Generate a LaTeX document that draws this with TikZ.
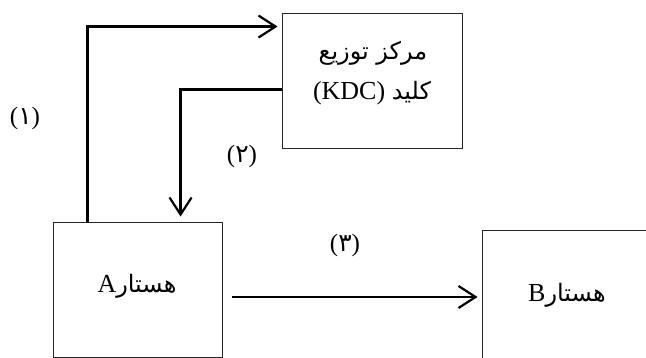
\documentclass[tikz,border=0pt]{standalone}
\usepackage{fontspec}
\setmainfont{Liberation Serif}
\newfontfamily\fa[Script=Arabic]{DejaVu Sans}
\TeXXeTstate=1
\usetikzlibrary{arrows.meta}

\begin{document}
\begin{tikzpicture}[x=1pt,y=-1pt,
  box/.style={draw=black!85, line width=0.9pt, rectangle, inner sep=0pt},
  arr/.style={line width=2.2pt, -{Straight Barb[length=17pt,width=22pt,line width=2.2pt]}},
  lbl/.style={font=\fontsize{25}{28}\selectfont, inner sep=0pt},
  txt/.style={font=\fontsize{26}{30}\selectfont, inner sep=0pt},
  fatxt/.style={font=\fontsize{24}{28}\selectfont\fa}]
  \clip (0,0) rectangle (646,358);

  % boxes
  \node[box, minimum width=180pt, minimum height=135pt] (kdc) at (372,80.5) {};
  \node[box, minimum width=169pt, minimum height=135pt] (A) at (137.5,289.5) {};
  \node[box, minimum width=200pt, minimum height=200pt] (B) at (582,330) {};

  % box texts
  \node[txt] (kdc1) at (373,53) {{\fontsize{24}{28}\selectfont\fa\beginR مرکز توزیع\endR}};
  \node[txt] (kdc2) at (372,93) {(KDC) {\fontsize{24}{28}\selectfont\fa\beginR کلید\endR}};
  \node[txt] (Atxt) at (137,286) {A{\fontsize{24}{28}\selectfont\fa\beginR هستار\endR}};
  \node[txt] (Btxt) at (567,295) {B{\fontsize{24}{28}\selectfont\fa\beginR هستار\endR}};

  % connectors
  \draw[arr, shorten >=4pt] ([xshift=35pt]A.north west) |- ([yshift=-14pt]kdc.north west);
  \draw[arr, shorten >=5pt] ([yshift=-77pt]kdc.north west) -| ([xshift=128pt]A.north west);
  \draw[arr, shorten <=10pt, shorten >=4pt] ([yshift=-7.5pt]A.east) -- ([yshift=-7.5pt]A.east -| B.west);

  % step labels
  \node[lbl] (l1) at (25,118) {({\fa ۱})};
  \node[lbl] (l2) at (242,156) {({\fa ۲})};
  \node[lbl] (l3) at (345,245) {({\fa ۳})};
\end{tikzpicture}
\end{document}
